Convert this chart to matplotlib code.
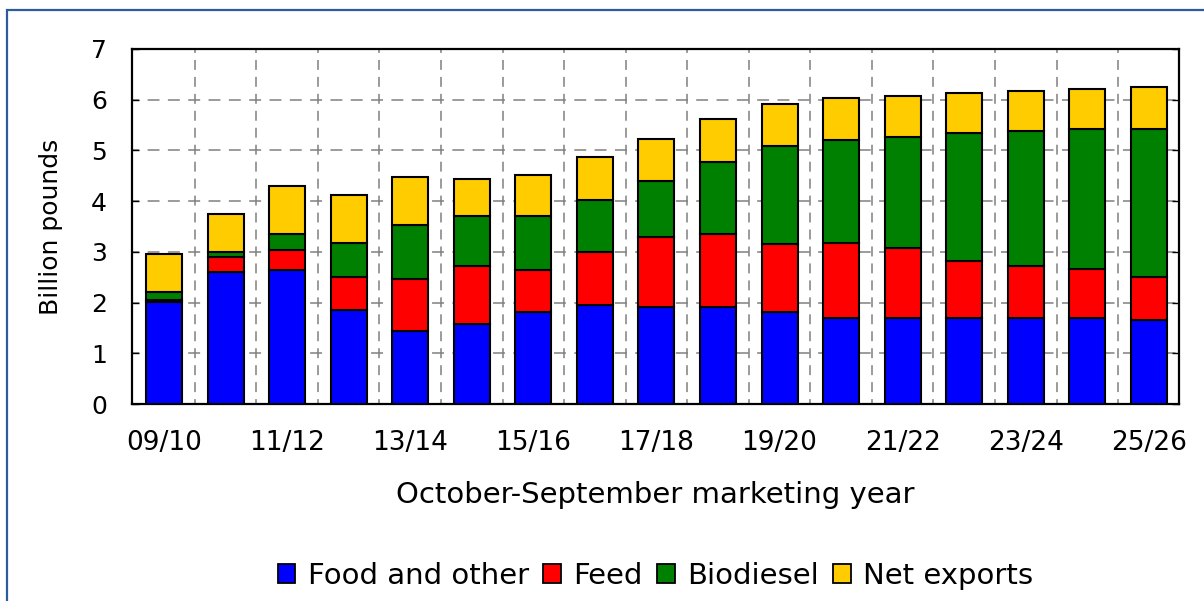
import matplotlib
matplotlib.use("Agg")
import matplotlib.pyplot as plt
from matplotlib.patches import Rectangle, Patch
import numpy as np

years = ["09/10", "10/11", "11/12", "12/13", "13/14", "14/15", "15/16", "16/17",
         "17/18", "18/19", "19/20", "20/21", "21/22", "22/23", "23/24", "24/25", "25/26"]
food = [2.02, 2.60, 2.65, 1.86, 1.43, 1.57, 1.82, 1.95, 1.91, 1.91, 1.82, 1.69, 1.69, 1.69, 1.69, 1.69, 1.65]
feed = [0.04, 0.29, 0.38, 0.65, 1.04, 1.16, 0.83, 1.04, 1.39, 1.44, 1.34, 1.48, 1.38, 1.13, 1.04, 0.97, 0.86]
biodiesel = [0.14, 0.10, 0.33, 0.66, 1.05, 0.97, 1.05, 1.04, 1.09, 1.43, 1.92, 2.04, 2.19, 2.52, 2.66, 2.77, 2.92]
net_exports = [0.75, 0.75, 0.94, 0.95, 0.96, 0.73, 0.82, 0.84, 0.83, 0.83, 0.83, 0.82, 0.82, 0.79, 0.79, 0.79, 0.82]

series = [("Food and other", food, "#0000FF"),
          ("Feed", feed, "#FF0000"),
          ("Biodiesel", biodiesel, "#008000"),
          ("Net exports", net_exports, "#FFCC00")]

plt.rcParams['font.family'] = ['DejaVu Sans']

W, H = 1204, 601
fig = plt.figure(figsize=(W / 100, H / 100), dpi=100)
fig.patch.set_facecolor("white")

# outer frame
fig.add_artist(Rectangle((6.5 / W, -0.1), 1.2, 1.1 - 9.5 / H, transform=fig.transFigure,
                         facecolor="none", edgecolor="#2E5B9A", linewidth=1.6, zorder=0))

ax = fig.add_axes([132 / W, (H - 404) / H, 1047 / W, 355 / H])

x = np.arange(len(years))
bottom = np.zeros(len(years))
for name, vals, col in series:
    vals = np.array(vals)
    ax.bar(x, vals, width=0.585, bottom=bottom, color=col, edgecolor="black",
           linewidth=1.5, label=name, zorder=3)
    bottom += vals

ax.set_xlim(-0.52, 16.49)
ax.set_ylim(0, 7)

# dashed grid
for yv in range(1, 7):
    ax.axhline(yv, color="#808080", linewidth=1.1, zorder=1,
               linestyle=(3.1, (7.8, 5.5)))
for xv in np.arange(0.5, 16.0, 1.0):
    ax.axvline(xv, color="#808080", linewidth=1.1, zorder=1,
               linestyle=(3.3, (6.5, 4.6)))

ax.set_yticks(range(0, 8))
ax.set_xticks(x[::2])
ax.set_xticklabels(years[::2])
ax.tick_params(axis="y", direction="in", length=5, width=1, labelsize=18, pad=18,
               left=True, right=True)
ax.tick_params(axis="x", length=0, labelsize=19, pad=18.5)

for s in ax.spines.values():
    s.set_linewidth(1.6)
    s.set_color("black")

ax.set_ylabel("Billion pounds", fontsize=18)
ax.yaxis.set_label_coords(-0.066, 0.5)
ax.set_xlabel("October-September marketing year", fontsize=21)
ax.xaxis.set_label_coords(0.5, -0.218)

handles = [Patch(facecolor=c, edgecolor="black", linewidth=1.3, label=n) for n, _, c in series]
fig.legend(handles=handles, loc="center", bbox_to_anchor=(655.5 / W, 1 - 576 / H), ncol=4,
           frameon=False, fontsize=21, handlelength=0.6, handleheight=0.6,
           handletextpad=0.42, columnspacing=0.5, borderaxespad=0)

fig.savefig("out.png", dpi=100, facecolor="white")
